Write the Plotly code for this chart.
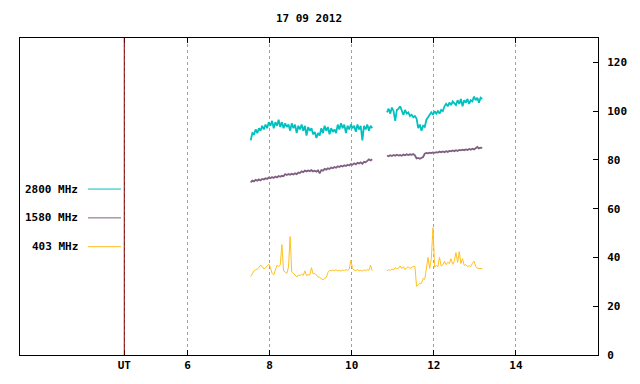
import numpy as np
import plotly.graph_objects as go

# ---- data (hours UT, solar flux units) ----
seg1_start, seg1_end = 7.54, 10.50
seg2_start, seg2_end = 10.86, 13.18

f2800_seg1 = [88, 91, 90.5, 92.5, 91, 93, 92, 94, 92.5, 94.5, 93, 95.5, 94, 96, 93, 95.5, 94, 96.5, 93.5, 95.5,
              93, 95, 93.5, 94.5, 92, 95, 93, 94.5, 91, 94, 92.5, 94.5, 92, 94, 90, 93.5, 92, 93, 90.5, 91.5,
              89, 91, 90, 93, 91, 94, 92, 93.5, 90.5, 93, 91.5, 92.5, 91, 94.5, 92.5, 95, 93, 94.5, 91, 94,
              92.5, 94.5, 93, 94, 91.5, 94.5, 92.5, 94, 88, 94, 92.5, 94.5, 92, 94, 93]
f2800_seg2 = [99.5, 101, 99, 101.5, 100, 96, 100.5, 101, 102, 100, 98.5, 100.5, 99, 99.5, 98, 98.5, 97.5, 98, 97, 93,
              94.5, 92, 94, 93.5, 96.5, 97.5, 98.5, 99.5, 98.5, 100, 99, 100, 99, 100.5, 100, 102, 103, 102, 103.5, 102.5,
              104, 103, 102.5, 104.5, 103, 105, 102, 104.5, 103.5, 105, 103, 104.5, 104, 106, 104.5, 105.5, 103.5, 105.5, 105]

f1580_seg1 = [70.8, 71.5, 71.2, 71.8, 71.5, 72.0, 71.6, 72.2, 72.0, 72.5, 72.2, 72.8, 72.5, 73.0, 72.6, 73.2, 72.8, 73.4, 73.1, 73.5,
              73.3, 74.2, 73.8, 74.2, 73.9, 74.3, 74.0, 74.5, 74.2, 74.8, 74.6, 75.3, 75.0, 75.6, 75.3, 75.7, 75.4, 75.8, 75.3, 75.6,
              75.2, 75.7, 74.5, 75.8, 75.6, 76.3, 76.0, 76.6, 76.3, 76.9, 76.6, 77.1, 76.8, 77.4, 77.1, 77.6, 77.3, 77.8, 77.5, 78.0,
              77.7, 78.3, 78.0, 78.6, 78.2, 78.8, 78.5, 79.0, 78.4, 79.2, 79.0, 79.6, 80.2, 79.8, 80.3]
f1580_seg2 = [81.8, 81.5, 81.9, 81.6, 82.0, 81.7, 82.1, 81.8, 82.0, 81.7, 82.2, 81.9, 82.3, 82.0, 82.3, 82.1, 82.4, 81.9, 80.6, 80.8,
              80.5, 81.0, 81.2, 82.6, 82.9, 82.7, 83.0, 82.8, 83.1, 82.9, 83.2, 83.0, 83.4, 83.1, 83.5, 83.2, 83.6, 83.3, 83.7, 83.5,
              83.9, 83.6, 84.0, 83.7, 84.1, 83.9, 84.2, 84.0, 84.3, 84.1, 84.5, 84.2, 84.6, 84.3, 84.8, 85.3, 84.7, 85.0, 84.9]

f403_seg1 = [32.2, 33.5, 34.5, 35.0, 35.2, 35.8, 36.8, 36.3, 35.3, 35.8, 36.5, 37.2, 36.0, 33.5, 32.8, 35.0, 36.8, 36.2, 37.0, 45.3,
             34.5, 34.0, 33.5, 36.0, 48.6, 34.0, 33.5, 32.8, 32.0, 32.8, 32.5, 33.2, 32.6, 34.5, 32.5, 33.0, 32.8, 35.8, 33.2, 33.5,
             32.8, 32.0, 31.8, 31.2, 30.8, 31.5, 31.8, 33.8, 34.7, 34.5, 34.8, 34.6, 34.9, 34.5, 34.7, 34.4, 34.8, 34.6, 35.0, 34.7,
             35.2, 38.8, 35.5, 34.8, 34.6, 35.0, 34.5, 34.8, 34.4, 34.9, 34.6, 35.0, 34.7, 36.8, 34.6]
f403_seg2 = [34.5, 35.0, 34.7, 35.2, 35.0, 35.8, 35.3, 35.6, 36.5, 35.5, 36.2, 35.0, 35.8, 36.2, 35.5, 36.0, 36.3, 36.3, 28.2, 28.8,
             29.4, 29.4, 31.4, 31.0, 36.5, 40.0, 35.5, 39.5, 52.2, 36.0, 36.8, 36.2, 40.0, 36.5, 37.0, 38.5, 37.0, 38.0, 37.5, 39.5,
             37.2, 38.5, 42.0, 38.0, 42.4, 37.5, 39.5, 36.8, 37.0, 36.3, 36.6, 36.3, 37.5, 38.5, 36.4, 35.6, 35.5, 35.6, 35.5]

series_names = ["2800 MHz", "1580 MHz", "403 MHz"]
series_colors = ["#00C0C0", "#806080", "#FFC020"]
series_widths = [1.8, 1.8, 1.0]
x_tick_vals = [4.46, 6, 8, 10, 12, 14]
x_tick_text = ["UT", "6", "8", "10", "12", "14"]
y_tick_vals = [0, 20, 40, 60, 80, 100, 120]
title_text = "17 09 2012"

FONT = dict(family="DejaVu Sans Mono", size=11, color="black", weight="bold")


def build(s1, s2):
    t1 = np.linspace(seg1_start, seg1_end, len(s1))
    t2 = np.linspace(seg2_start, seg2_end, len(s2))
    x = list(t1) + [None] + list(t2)
    y = list(s1) + [None] + list(s2)
    return x, y


fig = go.Figure()
data_sets = [(f2800_seg1, f2800_seg2), (f1580_seg1, f1580_seg2), (f403_seg1, f403_seg2)]
for (s1, s2), name, col, w in zip(data_sets, series_names, series_colors, series_widths):
    x, y = build(s1, s2)
    fig.add_trace(go.Scatter(x=x, y=y, mode="lines", name=name,
                             line=dict(color=col, width=w), connectgaps=False,
                             showlegend=False, hoverinfo="skip"))

# custom legend (text left, line right) like the original
leg_y = [0.5235, 0.4326, 0.3417]
for name, col, yy in zip(series_names, series_colors, leg_y):
    fig.add_annotation(xref="paper", yref="paper", x=0.1038, y=yy, text=name,
                       showarrow=False, xanchor="right", yanchor="middle", font=FONT)
    fig.add_shape(type="line", xref="paper", yref="paper", x0=0.1176, x1=0.1747, y0=yy, y1=yy,
                  line=dict(color=col, width=1))

# UT marker line
fig.add_shape(type="line", xref="x", yref="paper", x0=x_tick_vals[0], x1=x_tick_vals[0], y0=0, y1=1,
              line=dict(color="#800000", width=1))

fig.update_layout(
    width=640, height=384,
    margin=dict(l=20, r=42, t=38, b=26),
    paper_bgcolor="white", plot_bgcolor="white",
    font=FONT,
    title=dict(text=title_text, x=0.5, xref="paper", xanchor="center",
               y=1 - 18 / 384, yref="container", yanchor="middle", font=FONT),
    showlegend=False,
)
fig.update_xaxes(range=[1.92, 16.0], tickvals=x_tick_vals, ticktext=x_tick_text,
                 ticks="inside", ticklen=5, tickcolor="black",
                 showline=True, linecolor="black", linewidth=1, mirror="ticks",
                 showgrid=True, gridcolor="#A0A0A0", griddash="dot", gridwidth=1,
                 zeroline=False, tickfont=FONT)
fig.update_yaxes(range=[0, 130], side="right", tickvals=y_tick_vals,
                 ticks="inside", ticklen=5, tickcolor="black",
                 showline=True, linecolor="black", linewidth=1, mirror=True,
                 showgrid=False, zeroline=False, tickfont=FONT, ticklabelstandoff=6)

fig.write_html("out.html", config={"displayModeBar": False},
               post_script="document.body.style.margin='0';")
